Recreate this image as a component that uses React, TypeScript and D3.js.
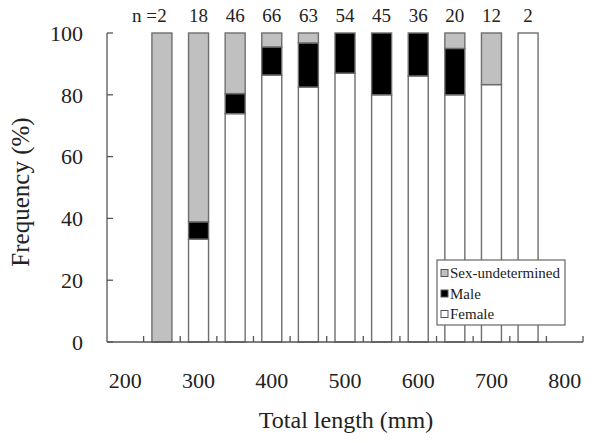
import { useEffect, useRef } from "react";
import * as d3 from "d3";

// size classes (mm), centre of each 50 mm bin
const lengths = [250, 300, 350, 400, 450, 500, 550, 600, 650, 700, 750];
const nCounts = [2, 18, 46, 66, 63, 54, 45, 36, 20, 12, 2];
// percentages
const female = [0, 33.3, 73.9, 86.4, 82.5, 87.0, 80.0, 86.1, 80.0, 83.3, 100];
const male = [0, 5.6, 6.5, 9.1, 14.3, 13.0, 20.0, 13.9, 15.0, 0, 0];
const undetermined = [100, 61.1, 19.6, 4.5, 3.2, 0, 0, 0, 5.0, 16.7, 0];

const yTicks = [0, 20, 40, 60, 80, 100];
const xTickLabels = [200, 300, 400, 500, 600, 700, 800];
const binEdges = [225, 275, 325, 375, 425, 475, 525, 575, 625, 675, 725, 775, 825];

const seriesKeys = ["female", "male", "undetermined"] as const;
const seriesFill: Record<string, string> = {
  female: "#ffffff",
  male: "#000000",
  undetermined: "#c0c0c0",
};
const legendItems = [
  { key: "undetermined", label: "Sex-undetermined" },
  { key: "male", label: "Male" },
  { key: "female", label: "Female" },
];

const W = 597;
const H = 443;
const FONT = "Liberation Serif, DejaVu Serif, serif";

export default function App() {
  const ref = useRef<SVGSVGElement | null>(null);

  useEffect(() => {
    if (!ref.current) return;
    const svg = d3.select(ref.current);
    svg.selectAll("*").remove();

    const x = d3.scaleLinear().domain([175, 825]).range([107, 583]);
    const y = d3.scaleLinear().domain([0, 100]).range([342, 33]);
    const barW = 20;
    const axisColor = "#555";

    const table = lengths.map((len, i) => ({
      len,
      female: female[i],
      male: male[i],
      undetermined: undetermined[i],
    }));
    const stacked = d3.stack<any>().keys(seriesKeys as any)(table);

    // bars
    const g = svg.append("g");
    stacked.forEach((layer) => {
      g.append("g")
        .selectAll("rect")
        .data(layer.filter((d) => d[1] - d[0] > 0))
        .join("rect")
        .attr("x", (d) => x(d.data.len) - barW / 2)
        .attr("y", (d) => y(d[1]))
        .attr("width", barW)
        .attr("height", (d) => y(d[0]) - y(d[1]))
        .attr("fill", seriesFill[layer.key])
        .attr("stroke", "#6e6e6e")
        .attr("stroke-width", 1.4);
    });

    // axes
    const ax = svg.append("g").attr("stroke", axisColor).attr("stroke-width", 1.3);
    ax.append("line").attr("x1", 107).attr("x2", 107).attr("y1", y(100)).attr("y2", y(0));
    ax.append("line").attr("x1", 107).attr("x2", 583).attr("y1", y(0)).attr("y2", y(0));
    ax.selectAll(".yt")
      .data(yTicks)
      .join("line")
      .attr("x1", 107)
      .attr("x2", 113)
      .attr("y1", (d) => y(d))
      .attr("y2", (d) => y(d));
    ax.selectAll(".xt")
      .data(binEdges)
      .join("line")
      .attr("x1", (d) => x(d))
      .attr("x2", (d) => x(d))
      .attr("y1", y(0))
      .attr("y2", y(0) - 6);

    const txt = svg.append("g").style("font-family", FONT).attr("fill", "#222");

    txt.selectAll(".yl")
      .data(yTicks)
      .join("text")
      .attr("x", 83)
      .attr("y", (d) => y(d))
      .attr("dy", "0.35em")
      .attr("text-anchor", "end")
      .attr("font-size", 22)
      .text((d) => d);

    txt.selectAll(".xl")
      .data(xTickLabels)
      .join("text")
      .attr("x", (d) => x(d))
      .attr("y", 380)
      .attr("dy", "0.35em")
      .attr("text-anchor", "middle")
      .attr("font-size", 22)
      .text((d) => d);

    txt.append("text")
      .attr("x", 346)
      .attr("y", 420)
      .attr("dy", "0.35em")
      .attr("text-anchor", "middle")
      .attr("font-size", 24)
      .text("Total length (mm)");

    txt.append("text")
      .attr("transform", "translate(20,192) rotate(-90)")
      .attr("dy", "0.35em")
      .attr("text-anchor", "middle")
      .attr("font-size", 25)
      .text("Frequency (%)");

    // sample sizes above bars
    txt.selectAll(".nl")
      .data(nCounts)
      .join("text")
      .attr("x", (_d, i) => x(lengths[i]))
      .attr("y", 15)
      .attr("dy", "0.35em")
      .attr("text-anchor", "middle")
      .attr("font-size", 19)
      .text((d) => d);
    txt.append("text")
      .attr("x", x(lengths[0]) - 5)
      .attr("y", 15)
      .attr("dy", "0.35em")
      .attr("text-anchor", "end")
      .attr("font-size", 19)
      .text("n =");

    // legend
    const lg = svg.append("g").attr("transform", "translate(437,260)");
    lg.append("rect")
      .attr("width", 128)
      .attr("height", 65)
      .attr("fill", "#fff")
      .attr("stroke", "#666")
      .attr("stroke-width", 1.2);
    legendItems.forEach((it, i) => {
      const cy = 13 + i * 20.5;
      lg.append("rect")
        .attr("x", 4)
        .attr("y", cy - 3.5)
        .attr("width", 7)
        .attr("height", 7)
        .attr("fill", seriesFill[it.key])
        .attr("stroke", "#555")
        .attr("stroke-width", 1);
      lg.append("text")
        .attr("x", 13)
        .attr("y", cy)
        .attr("dy", "0.35em")
        .style("font-family", FONT)
        .attr("font-size", 15)
        .attr("fill", "#222")
        .text(it.label);
    });
  }, []);

  return (
    <svg
      ref={ref}
      width={W}
      height={H}
      viewBox={`0 0 ${W} ${H}`}
      style={{ position: "absolute", left: 0, top: 0, background: "#fff", display: "block" }}
    />
  );
}
